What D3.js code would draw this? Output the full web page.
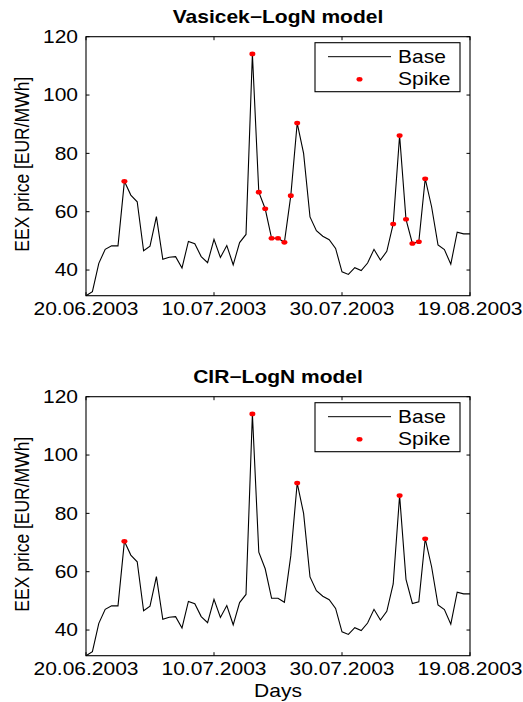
<!DOCTYPE html>
<html>
<head>
<meta charset="utf-8">
<script src="https://cdn.jsdelivr.net/npm/d3@7/dist/d3.min.js"></script>
<style>
  body { margin: 0; background: #fff; }
  svg { display: block; font-family: "Liberation Sans", Arial, Helvetica, sans-serif; }
</style>
</head>
<body>
<div id="chart"></div>
<script>
// Daily EEX base prices, 20.06.2003 .. 19.08.2003
const startDate = new Date(2003, 5, 20);
const prices = [
  31.2, 32.6, 42.3, 47.1, 48.3, 48.3, 70.4, 65.7, 63.4, 46.6,
  48.2, 58.3, 43.7, 44.4, 44.6, 40.7, 49.8, 49.0, 44.6, 42.5,
  50.5, 44.3, 48.4, 41.8, 49.4, 52.2, 114.1, 66.7, 61.0, 50.9,
  50.9, 49.5, 65.5, 90.4, 80.0, 58.2, 53.5, 51.6, 50.4, 47.4,
  39.4, 38.5, 40.8, 39.8, 42.4, 47.1, 43.4, 46.4, 55.8, 86.1,
  57.4, 49.1, 49.7, 71.3, 61.7, 48.6, 47.0, 42.0, 53.0, 52.4,
  52.4
];
const spikesVasicek = [6, 26, 27, 28, 29, 30, 31, 32, 33, 48, 49, 50, 51, 52, 53];
const spikesCIR = [6, 26, 33, 49, 53];
const panelTitles = ['Vasicek\u2212LogN model', 'CIR\u2212LogN model'];
const yTicks = [40, 60, 80, 100, 120];
const xTickLabels = ['20.06.2003', '10.07.2003', '30.07.2003', '19.08.2003'];
const legendLabels = ['Base', 'Spike'];

const parseDay = d3.timeParse('%d.%m.%Y');
const fmtDay = d3.timeFormat('%d.%m.%Y');
const data = prices.map((v, i) => ({ date: d3.timeDay.offset(startDate, i), value: v }));

const W = 523, H = 702;
const FS = 17.5, SX = 1.2;   // figure is stretched horizontally
const left = 86, right = 470, plotH = 259;
const panelTops = [36.7, 396.7];

const svg = d3.select('#chart').append('svg')
  .attr('width', W).attr('height', H).attr('viewBox', `0 0 ${W} ${H}`);

const x = d3.scaleTime()
  .domain([parseDay(xTickLabels[0]), parseDay(xTickLabels[xTickLabels.length - 1])])
  .range([left, right]);

function label(g, tx, ty, str, anchor, opts = {}) {
  return g.append('text')
    .attr('transform', `translate(${tx},${ty}) ${opts.rot ? 'rotate(-90) scale(1,' + SX + ')' : 'scale(' + SX + ',1)'}`)
    .attr('text-anchor', anchor)
    .attr('font-size', FS)
    .attr('font-weight', opts.bold ? 'bold' : null)
    .attr('fill', '#000')
    .text(str);
}

function drawPanel(top, title, spikeIdx, showXLabel) {
  const bottom = top + plotH;
  const y = d3.scaleLinear().domain([d3.min(prices), 120]).range([bottom, top]);
  const g = svg.append('g');

  // axis box
  g.append('rect').attr('x', left).attr('y', top)
    .attr('width', right - left).attr('height', plotH)
    .attr('fill', 'none').attr('stroke', '#000').attr('stroke-width', 1.1);

  // inward ticks on all four sides
  const xTickDates = xTickLabels.map(parseDay);
  xTickDates.forEach((d) => {
    const px = x(d);
    g.append('line').attr('x1', px).attr('x2', px).attr('y1', bottom).attr('y2', bottom - 3.5)
      .attr('stroke', '#000');
    g.append('line').attr('x1', px).attr('x2', px).attr('y1', top).attr('y2', top + 3.5)
      .attr('stroke', '#000');
    label(g, px, bottom + 19.5, fmtDay(d), 'middle');
  });
  yTicks.forEach((v) => {
    const py = y(v);
    g.append('line').attr('x1', left).attr('x2', left + 3.5).attr('y1', py).attr('y2', py)
      .attr('stroke', '#000');
    g.append('line').attr('x1', right).attr('x2', right - 3.5).attr('y1', py).attr('y2', py)
      .attr('stroke', '#000');
    label(g, left - 8, py + 6.3, v, 'end');
  });

  // base price line
  const line = d3.line().x((d) => x(d.date)).y((d) => y(d.value));
  g.append('path').datum(data)
    .attr('d', line).attr('fill', 'none')
    .attr('stroke', '#000').attr('stroke-width', 1.1);

  // spikes
  g.selectAll('ellipse.spike').data(spikeIdx.map((i) => data[i])).join('ellipse')
    .attr('class', 'spike')
    .attr('cx', (d) => x(d.date)).attr('cy', (d) => y(d.value))
    .attr('rx', 3).attr('ry', 2.3).attr('fill', '#ff0000');

  // title and axis labels
  label(g, (left + right) / 2, top - 14, title, 'middle', { bold: true });
  label(g, 29, top + plotH / 2 - 2, 'EEX price [EUR/MWh]', 'middle', { rot: true });
  if (showXLabel) label(g, (left + right) / 2, bottom + 41.5, 'Days', 'middle');

  // legend
  const lx = 315, ly = top + 6, lw = 145, lh = 49;
  g.append('rect').attr('x', lx).attr('y', ly).attr('width', lw).attr('height', lh)
    .attr('fill', '#fff').attr('stroke', '#000').attr('stroke-width', 1.1);
  g.append('line').attr('x1', lx + 13).attr('x2', lx + 76)
    .attr('y1', ly + 14).attr('y2', ly + 14).attr('stroke', '#000').attr('stroke-width', 1);
  g.append('ellipse').attr('cx', lx + 44.5).attr('cy', ly + 36.5)
    .attr('rx', 3).attr('ry', 2.3).attr('fill', '#ff0000');
  label(g, lx + 83, ly + 20.5, legendLabels[0], 'start');
  label(g, lx + 83, ly + 42.5, legendLabels[1], 'start');
}

drawPanel(panelTops[0], panelTitles[0], spikesVasicek, false);
drawPanel(panelTops[1], panelTitles[1], spikesCIR, true);
</script>
</body>
</html>
